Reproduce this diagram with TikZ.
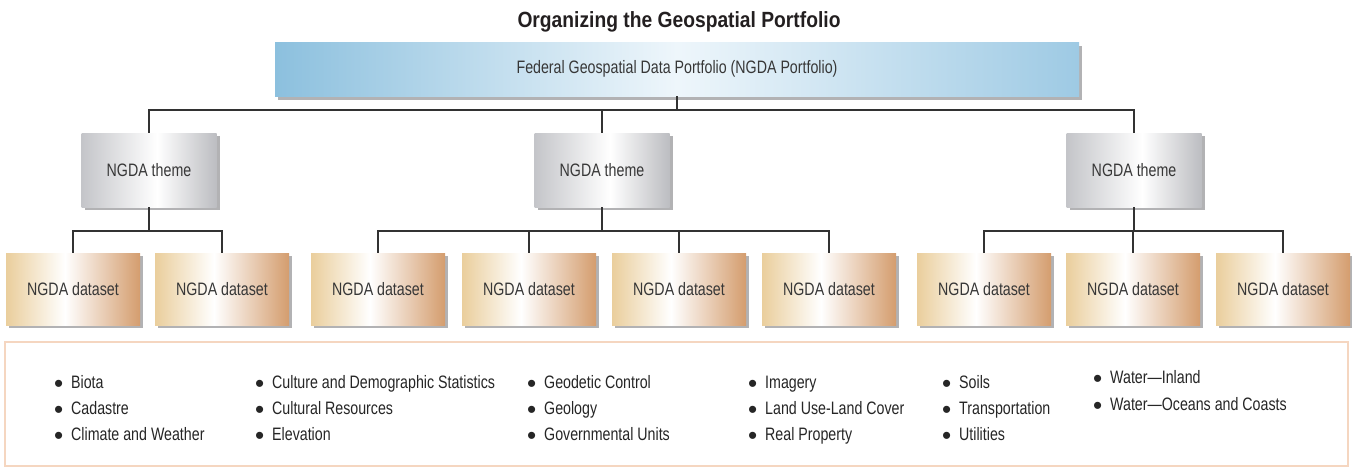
\documentclass[tikz,border=0pt]{standalone}
\usepackage{fontspec}
\usepackage{graphicx}
\setmainfont[FakeStretch=0.79]{Liberation Sans}
\newfontfamily\headfont[FakeStretch=0.875]{Liberation Sans}
\newfontfamily\dotfont{Liberation Sans}
\usetikzlibrary{shadows}

% palette
\definecolor{skyedge}{RGB}{140,192,222}
\definecolor{skyedgeR}{RGB}{158,202,228}
\definecolor{skymid}{RGB}{238,246,251}
\definecolor{themeedge}{RGB}{196,197,201}
\definecolor{themeedgeR}{RGB}{188,189,193}
\definecolor{tanleft}{RGB}{234,206,156}
\definecolor{tanright}{RGB}{212,157,110}
\definecolor{shadowgray}{RGB}{178,178,180}
\definecolor{linkgray}{RGB}{50,50,50}
\definecolor{labelgray}{RGB}{55,55,55}
\definecolor{peachline}{RGB}{245,214,192}
\definecolor{titleblack}{RGB}{35,31,32}

% left-to-right fills of the three box kinds
\pgfdeclarehorizontalshading{portfolioshade}{100bp}{color(0bp)=(skyedge); color(25bp)=(skyedge); color(50bp)=(skymid); color(75bp)=(skyedgeR); color(100bp)=(skyedgeR)}
\pgfdeclarehorizontalshading{themeshade}{100bp}{color(0bp)=(themeedge); color(25bp)=(themeedge); color(53bp)=(white); color(75bp)=(themeedgeR); color(100bp)=(themeedgeR)}
\pgfdeclarehorizontalshading{datashade}{100bp}{color(0bp)=(tanleft); color(25bp)=(tanleft); color(47bp)=(white); color(75bp)=(tanright); color(100bp)=(tanright)}

% list bullet, a little larger than the text's own
\newcommand{\listdot}{\makebox[17pt][l]{\raisebox{-4pt}{\scalebox{1.45}{\dotfont\textbullet}}}}

\tikzset{
  label/.style={font=\fontsize{18}{21}\selectfont, text=labelgray},
  boxshadow/.style={general shadow={fill=shadowgray, shadow xshift=3pt, shadow yshift=-3pt}},
  portbox/.style={label, shade, shading=portfolioshade, minimum width=804pt, minimum height=54pt,
    general shadow={fill=shadowgray, shadow xshift=3pt, shadow yshift=-4pt}},
  themebox/.style={label, shade, shading=themeshade, minimum width=135pt, minimum height=74pt, boxshadow},
  databox/.style={label, shade, shading=datashade, minimum width=134pt, minimum height=72pt, boxshadow},
  link/.style={draw=linkgray, line width=1.3pt},
  listitem/.style={label, anchor=base west, text=black!85},
  legendframe/.style={draw=peachline, line width=2.6pt, fill=white, minimum width=1343pt, minimum height=124pt},
}

\begin{document}
\begin{tikzpicture}[x=1pt, y=-1pt, every node/.style={inner sep=0pt}]
\useasboundingbox (0,0) rectangle (1352,472);

% heading
\node[anchor=base, font=\headfont\bfseries\fontsize{22}{25}\selectfont, text=titleblack]
  (heading) at (679,27.5) {Organizing the Geospatial Portfolio};

% portfolio
\node[portbox] (top) at (677,69) {Federal Geospatial Data Portfolio (NGDA Portfolio)};

% themes
\node[themebox] (t1) at (149,170) {NGDA theme};
\node[themebox] (t2) at (602,170) {NGDA theme};
\node[themebox] (t3) at (1134,170) {NGDA theme};

% datasets
\foreach \cx [count=\k] in {73,222,378,529,679,829,984,1133,1283}
  \node[databox] (d\k) at (\cx,289) {NGDA dataset};

% junctions
\coordinate (bus0) at (677,110);
\coordinate (j1) at (149,231);
\coordinate (j2) at (602,231);
\coordinate (j3) at (1134,231);

% portfolio to themes
\draw[link] (top.south) -- (bus0);
\draw[link] (t1.north) |- (bus0) -| (t3.north);
\draw[link] (t2.north) -- (t2.north |- bus0);

% themes to datasets
\draw[link] (t1.south) -- (j1);
\draw[link] (d1.north) |- (j1) -| (d2.north);
\draw[link] (t2.south) -- (j2);
\draw[link] (d3.north) |- (j2) -| (d6.north);
\draw[link] (d4.north) -- (d4.north |- j2);
\draw[link] (d5.north) -- (d5.north |- j2);
\draw[link] (t3.south) -- (j3);
\draw[link] (d7.north) |- (j3) -| (d9.north);
\draw[link] (d8.north) -- (d8.north |- j3);

% theme list
\node[legendframe] (legend) at (676.5,404) {};
\foreach \tx/\by/\txt [count=\k] in {
  71/388/Biota, 71/414/Cadastre, 71/440/Climate and Weather,
  272/388/Culture and Demographic Statistics, 272/414/Cultural Resources, 272/440/Elevation,
  544/388/Geodetic Control, 544/414/Geology, 544/440/Governmental Units,
  765/388/Imagery, 765/414/Land Use-Land Cover, 765/440/Real Property,
  959/388/Soils, 959/414/Transportation, 959/440/Utilities,
  1110/383/Water—Inland, 1110/410/Water—Oceans and Coasts}
  \node[listitem] (item\k) at (\tx-17,\by) {\listdot\txt};

\end{tikzpicture}
\end{document}
